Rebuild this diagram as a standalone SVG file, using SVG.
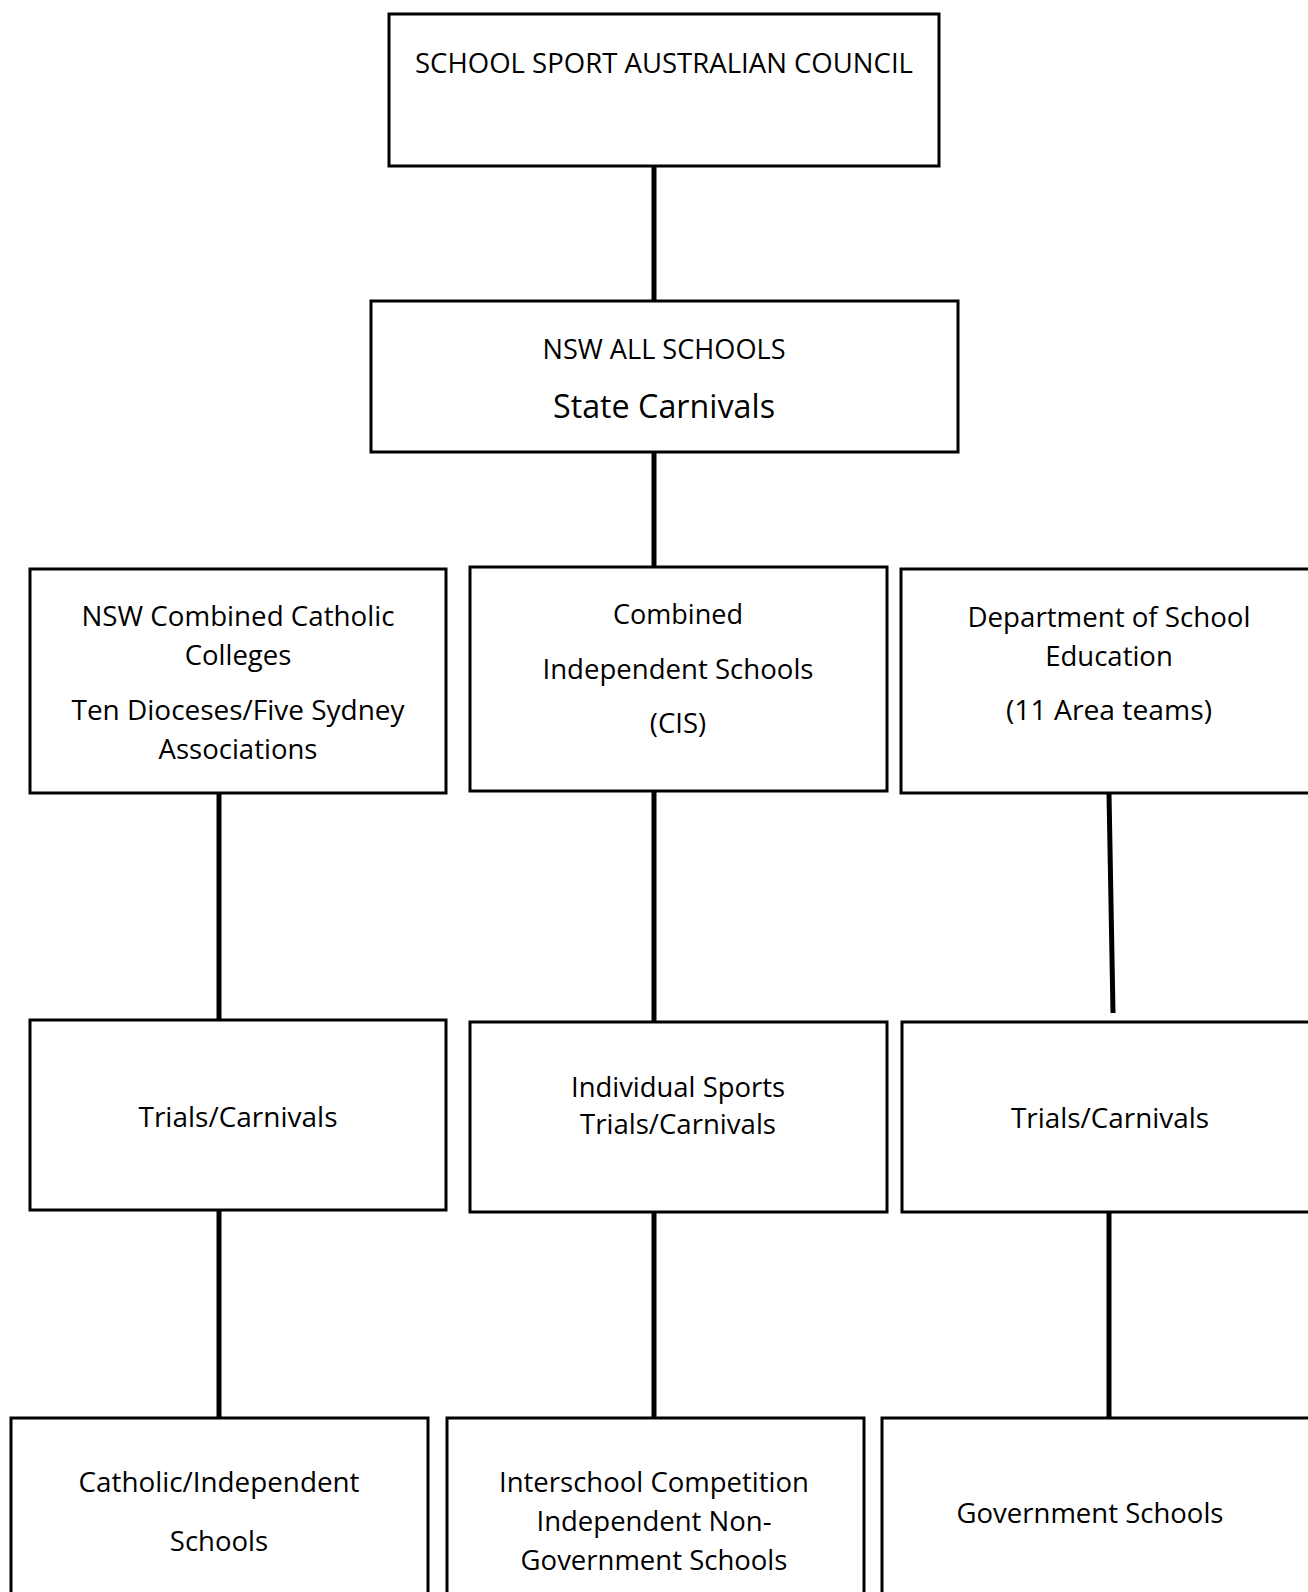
<svg xmlns="http://www.w3.org/2000/svg" width="1308" height="1592" viewBox="0 0 1308 1592">
<style>
.box{fill:#fff;stroke:#000;stroke-width:3}
.t{font-family:"Open Sans","Liberation Sans",sans-serif;font-size:27.5px;fill:#000;text-anchor:middle}
.big{font-size:32px}
.c{stroke:#000;stroke-width:5;fill:none}
</style>
<rect width="1308" height="1592" fill="#fff"/>
<g id="connectors">
<line class="c" x1="654" y1="167" x2="654" y2="301"/>
<line class="c" x1="654" y1="452" x2="654" y2="567"/>
<line class="c" x1="219" y1="793" x2="219" y2="1020"/>
<line class="c" x1="654" y1="791" x2="654" y2="1022"/>
<line class="c" x1="1109" y1="793" x2="1113" y2="1013"/>
<line class="c" x1="219" y1="1210" x2="219" y2="1418"/>
<line class="c" x1="654" y1="1212" x2="654" y2="1418"/>
<line class="c" x1="1109" y1="1212" x2="1109" y2="1418"/>
</g>
<g id="n-sspac">
<rect class="box" x="389" y="14" width="550" height="152"/>
<text class="t" x="664" y="73" textLength="498" lengthAdjust="spacingAndGlyphs">SCHOOL SPORT AUSTRALIAN COUNCIL</text>
</g>
<g id="n-nsw-all">
<rect class="box" x="371" y="301" width="587" height="151"/>
<text class="t" x="664" y="359" textLength="243" lengthAdjust="spacingAndGlyphs">NSW ALL SCHOOLS</text>
<text class="t big" x="664" y="418" textLength="222" lengthAdjust="spacingAndGlyphs">State Carnivals</text>
</g>
<g id="n-ccc">
<rect class="box" x="30" y="569" width="416" height="224"/>
<text class="t" x="238" y="626" textLength="313" lengthAdjust="spacingAndGlyphs">NSW Combined Catholic</text>
<text class="t" x="238" y="665">Colleges</text>
<text class="t" x="238" y="720" textLength="333" lengthAdjust="spacingAndGlyphs">Ten Dioceses/Five Sydney</text>
<text class="t" x="238" y="759">Associations</text>
</g>
<g id="n-cis">
<rect class="box" x="470" y="567" width="417" height="224"/>
<text class="t" x="678" y="624" textLength="130" lengthAdjust="spacingAndGlyphs">Combined</text>
<text class="t" x="678" y="679" textLength="271" lengthAdjust="spacingAndGlyphs">Independent Schools</text>
<text class="t" x="678" y="733">(CIS)</text>
</g>
<g id="n-dse">
<rect class="box" x="901" y="569" width="430" height="224"/>
<text class="t" x="1109" y="627" textLength="283" lengthAdjust="spacingAndGlyphs">Department of School</text>
<text class="t" x="1109" y="666">Education</text>
<text class="t" x="1109" y="720" textLength="206" lengthAdjust="spacingAndGlyphs">(11 Area teams)</text>
</g>
<g id="n-trials-left">
<rect class="box" x="30" y="1020" width="416" height="190"/>
<text class="t" x="238" y="1127" textLength="199" lengthAdjust="spacingAndGlyphs">Trials/Carnivals</text>
</g>
<g id="n-trials-mid">
<rect class="box" x="470" y="1022" width="417" height="190"/>
<text class="t" x="678" y="1097" textLength="214" lengthAdjust="spacingAndGlyphs">Individual Sports</text>
<text class="t" x="678" y="1134" textLength="196" lengthAdjust="spacingAndGlyphs">Trials/Carnivals</text>
</g>
<g id="n-trials-right">
<rect class="box" x="902" y="1022" width="430" height="190"/>
<text class="t" x="1110" y="1128" textLength="198" lengthAdjust="spacingAndGlyphs">Trials/Carnivals</text>
</g>
<g id="n-catholic-schools">
<rect class="box" x="11" y="1418" width="417" height="200"/>
<text class="t" x="219" y="1492" textLength="281" lengthAdjust="spacingAndGlyphs">Catholic/Independent</text>
<text class="t" x="219" y="1551">Schools</text>
</g>
<g id="n-interschool">
<rect class="box" x="447" y="1418" width="417" height="200"/>
<text class="t" x="654" y="1492" textLength="310" lengthAdjust="spacingAndGlyphs">Interschool Competition</text>
<text class="t" x="654" y="1531">Independent Non-</text>
<text class="t" x="654" y="1570">Government Schools</text>
</g>
<g id="n-gov">
<rect class="box" x="882" y="1418" width="450" height="200"/>
<text class="t" x="1090" y="1523" textLength="267" lengthAdjust="spacingAndGlyphs">Government Schools</text>
</g>
</svg>
